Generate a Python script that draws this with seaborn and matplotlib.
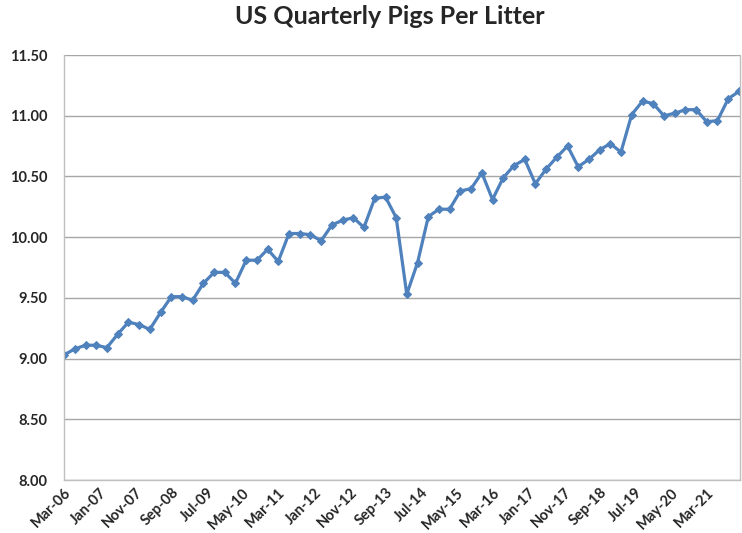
import pandas as pd
import matplotlib.pyplot as plt
import seaborn as sns

sns.set_style("white")
plt.rcParams["font.family"] = ["Lato", "DejaVu Sans"]

# quarterly pigs per litter, Mar-06 .. Dec-21
quarters = pd.date_range("2006-03-01", "2021-12-01", freq="3MS")
pigs_per_litter = [
    9.03, 9.08, 9.11, 9.11, 9.09, 9.20, 9.30, 9.28,
    9.24, 9.38, 9.51, 9.51, 9.48, 9.62, 9.71, 9.71,
    9.62, 9.81, 9.81, 9.90, 9.80, 10.03, 10.03, 10.02,
    9.97, 10.10, 10.14, 10.16, 10.08, 10.32, 10.33, 10.16,
    9.53, 9.79, 10.17, 10.23, 10.23, 10.38, 10.40, 10.53,
    10.31, 10.49, 10.59, 10.64, 10.44, 10.56, 10.66, 10.75,
    10.58, 10.64, 10.72, 10.77, 10.70, 11.01, 11.12, 11.10,
    11.00, 11.02, 11.05, 11.05, 10.95, 10.96, 11.14, 11.20,
]
y_ticks = [8.0, 8.5, 9.0, 9.5, 10.0, 10.5, 11.0, 11.5]

df = pd.DataFrame({"Quarter": quarters, "Pigs": pigs_per_litter})

fig = plt.figure(figsize=(7.42, 5.33), dpi=100)
ax = fig.add_axes([0.0863, 0.0994, 0.9110, 0.7974])

sns.lineplot(data=df, x="Quarter", y="Pigs", ax=ax, color="#4F81BD",
             linewidth=2.3, marker="D", markersize=4.5,
             markeredgecolor="#4F81BD")

ax.set_ylim(8.0, 11.5)
ax.set_yticks(y_ticks)
ax.set_yticklabels([f"{v:.2f}" for v in y_ticks])
ax.yaxis.grid(True, color="#A6A6A6", linewidth=1)
ax.set_axisbelow(True)

ax.set_xlim(pd.Timestamp("2006-03-01"), pd.Timestamp("2021-12-10"))
xt = pd.date_range("2006-03-01", "2021-12-01", freq="10MS")
ax.set_xticks(xt)
ax.set_xticklabels([d.strftime("%b-%y") for d in xt], rotation=45,
                   ha="right", rotation_mode="anchor")

for lab in ax.get_xticklabels() + ax.get_yticklabels():
    lab.set_fontweight("bold")
    lab.set_fontsize(10.5)
ax.tick_params(axis="both", length=0)
ax.tick_params(axis="y", pad=12)
ax.tick_params(axis="x", pad=4)

for s in ["left", "bottom", "right"]:
    ax.spines[s].set_color("#BFBFBF")
    ax.spines[s].set_linewidth(1)
ax.spines["top"].set_visible(False)

ax.set_xlabel("")
ax.set_ylabel("")
fig.suptitle("US Quarterly Pigs Per Litter", fontsize=18, fontweight="bold",
             x=0.525, y=0.99)

fig.savefig("out.png", dpi=100)
